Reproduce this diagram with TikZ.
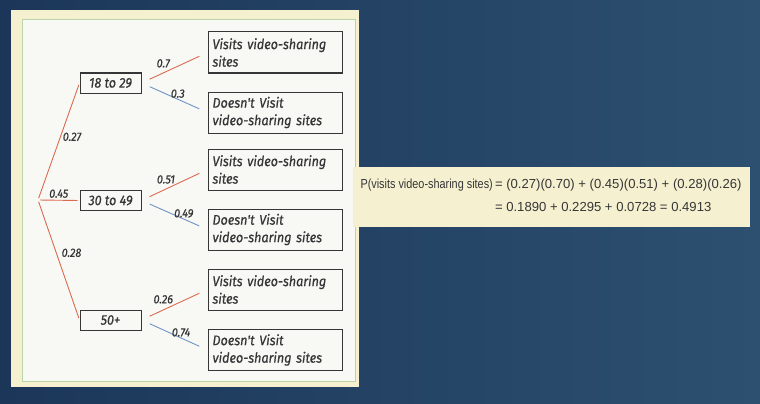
\documentclass[tikz,border=0pt]{standalone}
\usepackage{fontspec}
\usepackage{tikz}
\setmainfont{Liberation Sans}
\newfontfamily\handfont[FakeStretch=0.9, FakeBold=0.6]{Fira Sans}
\definecolor{bgleft}{HTML}{1B3659}
\definecolor{bgright}{HTML}{2D5070}
\definecolor{cream}{HTML}{F5F0D0}
\definecolor{paper}{HTML}{F8F9F5}
\definecolor{leafgreen}{HTML}{B9D7A6}
\definecolor{inkgray}{HTML}{363636}
\definecolor{branchred}{HTML}{DB6A4E}
\definecolor{branchblue}{HTML}{7092C4}

\begin{document}
\begin{tikzpicture}[x=1pt, y=-1pt,
  agebox/.style={draw=inkgray, line width=1pt, minimum width=61pt, minimum height=20pt,
    inner sep=1pt, font=\handfont\itshape\fontsize{14}{15}\selectfont, text=inkgray},
  leafbox/.style={draw=inkgray, line width=1pt, text width=125pt, minimum height=41pt,
    inner sep=4.5pt, align=left, font=\handfont\itshape\fontsize{14}{17.5}\selectfont, text=inkgray},
  yes/.style={branchred, line width=0.9pt, shorten <=9pt, shorten >=9pt},
  no/.style={branchblue, line width=0.9pt, shorten <=9pt, shorten >=9pt},
  first/.style={branchred, line width=0.9pt, shorten <=2pt, shorten >=2pt},
  prob/.style={text=inkgray, font=\handfont\itshape\fontsize{12}{13}\selectfont, inner sep=1pt}]
  \useasboundingbox (0,0) rectangle (760,404);
  \shade[left color=bgleft, right color=bgright] (0,0) rectangle (760,404);

  % panel
  \fill[cream] (11,10) rectangle (359,387);
  \draw[leafgreen, fill=paper, line width=1pt] (22,20) rectangle (355,381);

  \coordinate (root) at (38,200);
  \node[agebox] (a18) at (110.5,83) {18 to 29};
  \node[agebox] (a30) at (110.5,200.5) {30 to 49};
  \node[agebox] (a50) at (110.5,320) {50+};

  \node[leafbox] (v1) at (275,52.5) {\mbox{Visits video-sharing}\\sites};
  \node[leafbox] (n1) at (275,112.5) {Doesn't Visit\\\mbox{video-sharing sites}};
  \node[leafbox] (v2) at (275,169.5) {\mbox{Visits video-sharing}\\sites};
  \node[leafbox] (n2) at (275,229.5) {Doesn't Visit\\\mbox{video-sharing sites}};
  \node[leafbox] (v3) at (275,289.5) {\mbox{Visits video-sharing}\\sites};
  \node[leafbox] (n3) at (275,350) {Doesn't Visit\\\mbox{video-sharing sites}};

  \draw[first] (root) -- node[prob, pos=0.54, right=1pt] {0.27} (a18.west);
  \draw[first] (root) -- node[prob, midway, above=1pt] {0.45} (a30.west);
  \draw[first] (root) -- node[prob, pos=0.44, right=4pt] {0.28} (a50.west);

  \draw[yes] (a18.east) -- node[prob, pos=0.33, above=4pt] {0.7} (v1.west);
  \draw[no] (a18.east) -- node[prob, pos=0.55, above=0pt] {0.3} (n1.west);
  \draw[yes] (a30.east) -- node[prob, pos=0.37, above=4pt] {0.51} (v2.west);
  \draw[no] (a30.east) -- node[prob, pos=0.64, above=0pt] {0.49} (n2.west);
  \draw[yes] (a50.east) -- node[prob, pos=0.33, above=5pt] {0.26} (v3.west);
  \draw[no] (a50.east) -- node[prob, pos=0.6, above=0pt] {0.74} (n3.west);

  % total probability
  \node[fill=cream, minimum width=397pt, minimum height=60pt, text=inkgray,
    font=\fontsize{13.1}{16}\selectfont] (total) at (551,197) {%
    \begin{tabular}{@{}r@{\,}l@{}}
      \scalebox{0.83}[1]{P(visits video-sharing sites)} & = (0.27)(0.70) + (0.45)(0.51) + (0.28)(0.26)\\[7pt]
      & = 0.1890 + 0.2295 + 0.0728 = 0.4913
    \end{tabular}};
\end{tikzpicture}
\end{document}
